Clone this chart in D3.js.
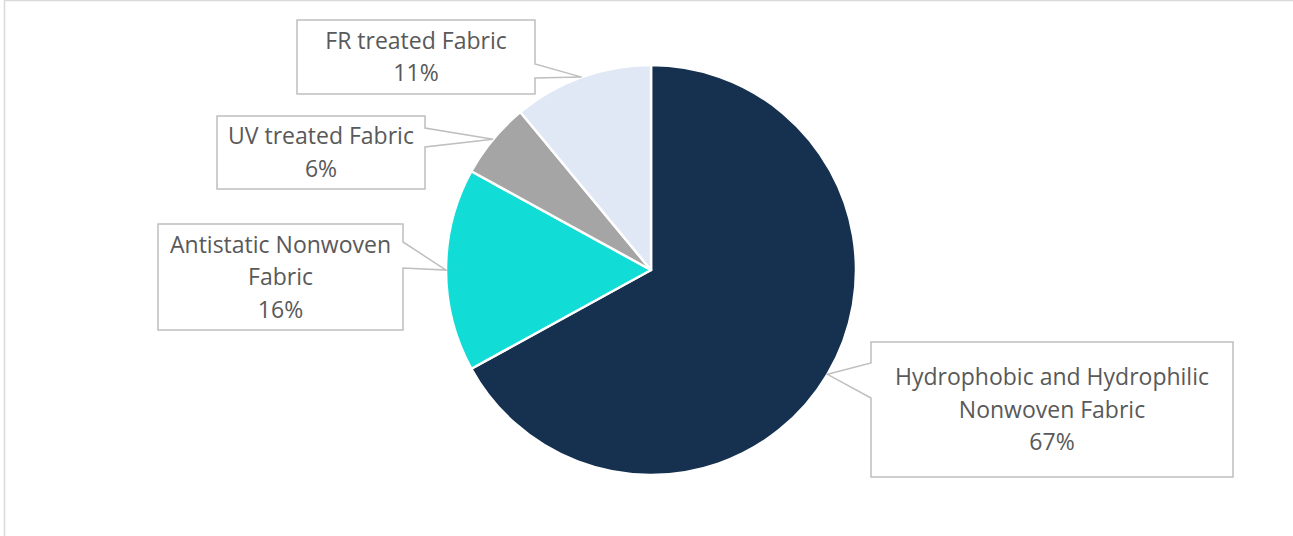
<!DOCTYPE html>
<html>
<head>
<meta charset="utf-8">
<style>
html, body { margin: 0; padding: 0; background: #fff; }
svg { display: block; }
.callout { fill: #fff; stroke: #bfbfbf; stroke-width: 1.5; }
.lbl { font-family: "Open Sans", Lato, sans-serif; font-size: 23px; fill: #595959; text-anchor: middle; }
</style>
</head>
<body>
<script src="https://cdn.jsdelivr.net/npm/d3@7"></script>
<script>
var categories = ['Hydrophobic and Hydrophilic Nonwoven Fabric', 'Antistatic Nonwoven Fabric', 'UV treated Fabric', 'FR treated Fabric']
var shares = [67, 16, 6, 11]
var colors = ['#16314f', '#12dcd6', '#a5a5a5', '#dfe8f4']
var labelLines = [
    ['Hydrophobic and Hydrophilic', 'Nonwoven Fabric', '67%'],
    ['Antistatic Nonwoven', 'Fabric', '16%'],
    ['UV treated Fabric', '6%'],
    ['FR treated Fabric', '11%']
]

var width = 1293
var height = 536
var cx = 651, cy = 270, r = 205

// callout boxes: x, y, w, h, side of pointer, pointer base offsets
var boxes = [
    { x: 871, y: 342, w: 362, h: 135, side: 'left', b1: 21, b2: 56 },
    { x: 158, y: 224, w: 245, h: 106, side: 'right', b1: 18, b2: 44 },
    { x: 217, y: 116, w: 208, h: 73, side: 'right', b1: 12, b2: 31 },
    { x: 297, y: 20, w: 238, h: 74, side: 'right', b1: 44, b2: 58 }
]

var svg = d3.select('body').append('svg')
    .attr('width', width)
    .attr('height', height)

// chart frame
svg.append('path')
    .attr('d', 'M4.5,' + height + 'V0.5H' + width)
    .attr('fill', 'none')
    .attr('stroke', '#d9d9d9')
    .attr('stroke-width', 1.5)

var pie = d3.pie().sort(null).value(function (d) { return d })
var arcs = pie(shares)

var arc = d3.arc().innerRadius(0).outerRadius(r)
var edge = d3.arc().innerRadius(r).outerRadius(r)

var g = svg.append('g').attr('transform', 'translate(' + cx + ',' + cy + ')')

g.selectAll('path.slice')
    .data(arcs)
    .enter().append('path')
    .attr('class', 'slice')
    .attr('d', arc)
    .attr('fill', function (d, i) { return colors[i] })
    .attr('stroke', '#fff')
    .attr('stroke-width', 2.5)
    .attr('stroke-linejoin', 'round')

// callouts
arcs.forEach(function (d, i) {
    var b = boxes[i]
    var tip = edge.centroid(d)
    var tx = tip[0] + cx, ty = tip[1] + cy
    var p
    if (b.side === 'right') {
        var rx = b.x + b.w
        p = 'M' + b.x + ',' + b.y + 'H' + rx + 'V' + (b.y + b.b1) +
            'L' + tx + ',' + ty + 'L' + rx + ',' + (b.y + b.b2) +
            'V' + (b.y + b.h) + 'H' + b.x + 'Z'
    } else {
        p = 'M' + b.x + ',' + b.y + 'H' + (b.x + b.w) + 'V' + (b.y + b.h) +
            'H' + b.x + 'V' + (b.y + b.b2) + 'L' + tx + ',' + ty +
            'L' + b.x + ',' + (b.y + b.b1) + 'Z'
    }
    svg.append('path').attr('class', 'callout').attr('d', p)

    var lines = labelLines[i]
    var lh = 32.5
    var startY = b.y + b.h / 2 - (lines.length - 1) * lh / 2 + 8
    var t = svg.append('text').attr('class', 'lbl')
    lines.forEach(function (s, k) {
        t.append('tspan')
            .attr('x', b.x + b.w / 2)
            .attr('y', startY + k * lh)
            .text(s)
    })
})
</script>
</body>
</html>
